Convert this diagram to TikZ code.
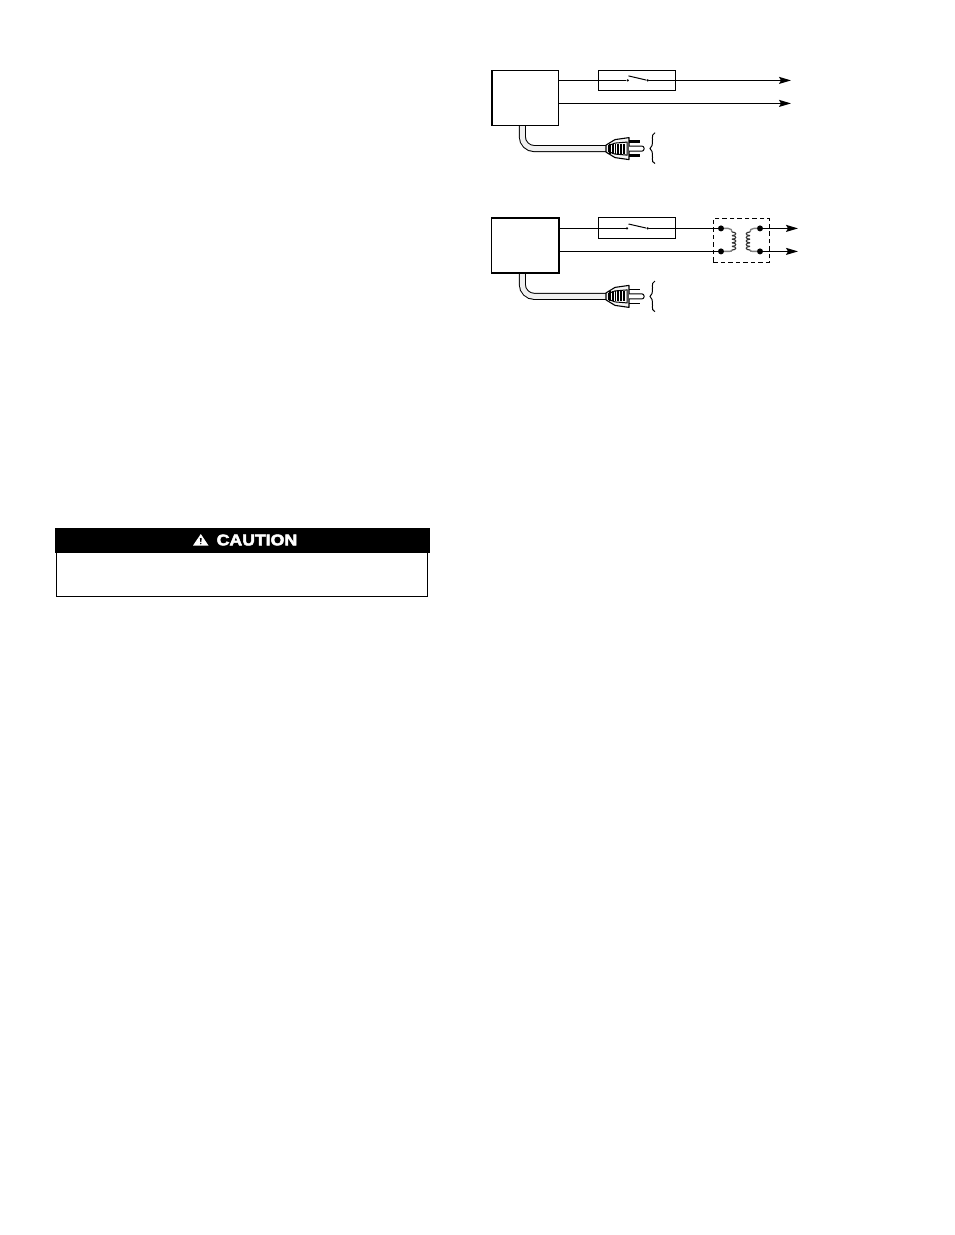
\documentclass[tikz,border=0pt]{standalone}
\usepackage{fontspec}
\setmainfont{DejaVu Sans}
\newfontfamily\cautionfont[FakeBold=3.2,FakeStretch=1.14]{Liberation Sans Bold}
\usetikzlibrary{arrows.meta}
\tikzset{
  ctrlbox/.style={draw=black,fill=white,line width=1.5pt,inner sep=0pt,outer sep=0pt,minimum width=67.2pt},
  fusebox/.style={draw=black,line width=1.2pt,inner sep=0pt,outer sep=0pt,minimum width=77.4pt},
  wire/.style={draw=black,line width=1.2pt},
  outwire/.style={wire,-{Stealth[length=12pt,width=7pt,inset=2pt]}},
  blade/.style={draw=black,line width=1pt},
  contact/.style={fill=black,circle,inner sep=0pt,minimum size=2.6pt},
  terminal/.style={fill=black,circle,inner sep=0pt,outer sep=0pt,minimum size=6pt},
  cordouter/.style={draw=black,line width=7pt,rounded corners=12pt},
  cordinner/.style={draw=black!6,line width=5pt,rounded corners=12pt},
  bracket/.style={draw=black,line width=1pt},
  coilleg/.style={draw=black!50,line width=1.4pt},
  coilturn/.style={draw=black!80,line width=1.1pt},
  dashedbox/.style={draw=black,line width=1pt,dash pattern=on 4.5pt off 3pt,inner sep=0pt,outer sep=0pt,minimum width=56pt,minimum height=44pt},
  banner/.style={fill=black,inner sep=0pt,outer sep=0pt,minimum width=375pt,minimum height=25pt},
  notebox/.style={draw=black,line width=1pt,inner sep=0pt,outer sep=0pt,minimum width=371pt,minimum height=60pt},
  cautiontext/.style={text=white,font=\fontsize{15.5}{15.5}\selectfont\cautionfont,inner sep=0pt},
  powerplug/.pic={
    \draw[black,line width=1.1pt,fill=black!4,line join=round] (0,-3.5) -- (9,-9) -- (23,-11) -- (23,11) -- (9,9) -- (0,3.5) -- cycle;
    \draw[black,line width=1pt,fill=white] (2.5,-3) -- (9,-5.5) -- (21,-6.5) -- (21,6.5) -- (9,5.5) -- (2.5,3) -- cycle;
    \foreach \sx in {3,5.8,8.6,11.4,14.2,17} {\fill[black] (\sx,-5) rectangle (\sx+1.7,5);}
    \draw[black,line width=1pt,fill=white,rounded corners=2pt] (23,-2.5) -- (38,-2.5) -- (38,2.5) -- (23,2.5);
    \draw[black,line width=\prongw] (23,-7) -- (34,-7);
    \draw[black,line width=\prongw] (23,7) -- (34,7);
  }
}
\newcommand{\prongw}{2pt}
\begin{document}
\begin{tikzpicture}[x=1pt,y=-1pt]
\useasboundingbox (0,0) rectangle (954,1235);
% ---- upper diagram
\coordinate (cA) at (522.3,125.3);
\coordinate (cAbend) at (522.3,148.6);
\coordinate (pA) at (606,148.6);
\draw[cordouter] (cA) -- (cAbend) -- (pA);
\draw[cordinner] (cA) -- (cAbend) -- (pA);
\node[ctrlbox,minimum height=55pt] (boxA) at (525.1,97.8) {};
\draw[black,line width=2pt] ([xshift=0.7pt]boxA.north west) -- ([xshift=0.7pt]boxA.south west);
\node[fusebox,minimum height=20pt] (fuseA) at (637,80.3) {};
\coordinate (a1) at (boxA.east |- 0,80.4);
\coordinate (a2) at (boxA.east |- 0,103.4);
\node[contact] (swAl) at (627.7,80.4) {};
\node[contact] (swAr) at (647.7,80.4) {};
\coordinate (bladeA) at (628.5,75.9);
\coordinate (outA1) at (791,80.4);
\coordinate (outA2) at (791,103.4);
\draw[wire] (a1) -- (swAl);
\draw[blade] (bladeA) -- (swAr);
\draw[outwire] (swAr) -- (outA1);
\draw[outwire] (a2) -- (outA2);
\renewcommand{\prongw}{2.4pt}
\pic at (pA) {powerplug};
\draw[bracket] (655,132.7) .. controls (652,133.5) and (652.5,136) .. (652.5,140) .. controls (652.5,145) and (652,147) .. (650,148.5) .. controls (652,150) and (652.5,152) .. (652.5,157) .. controls (652.5,161) and (652,163) .. (655,163.5);
% ---- lower diagram
\coordinate (cB) at (522.3,273.3);
\coordinate (cBbend) at (522.3,296.4);
\coordinate (pB) at (606,296.4);
\draw[cordouter] (cB) -- (cBbend) -- (pB);
\draw[cordinner] (cB) -- (cBbend) -- (pB);
\node[ctrlbox,line width=1.9pt,minimum height=55.6pt] (boxB) at (525.1,245.5) {};
\node[fusebox,line width=1.5pt,minimum height=20.6pt] (fuseB) at (637,228) {};
\coordinate (b1) at (boxB.east |- 0,228.4);
\coordinate (b2) at (boxB.east |- 0,251.4);
\node[contact] (swBl) at (627,228.4) {};
\node[contact] (swBr) at (647.7,228.4) {};
\coordinate (bladeB) at (628.5,224);
\node[dashedbox] (dash) at (741.3,240.3) {};
\node[terminal] (tl1) at (721,228.4) {};
\node[terminal] (tl2) at (721,251.4) {};
\node[terminal] (tr1) at (760,228.4) {};
\node[terminal] (tr2) at (760,251.4) {};
\coordinate (outB1) at (798,228.4);
\coordinate (outB2) at (798,251.4);
\draw[wire] (b1) -- (swBl);
\draw[blade] (bladeB) -- (swBr);
\draw[wire] (swBr) -- (tl1);
\draw[wire] (b2) -- (tl2);
\draw[outwire] (tr1) -- (outB1);
\draw[outwire] (tr2) -- (outB2);
\draw[coilleg] (tl1) -- (728,228.4) .. controls (731,228.4) and (732,230) .. (732,232);
\draw[coilleg] (tl2) -- (729,251.4) .. controls (731,251.4) and (732,251) .. (732,250);
\draw[coilleg] (tr1) -- (754,228.4) .. controls (751,228.4) and (750,230) .. (750,232);
\draw[coilleg] (tr2) -- (753,251.4) .. controls (751,251.4) and (750,251) .. (750,250);
\foreach \n in {0,...,4} {
  \draw[coilturn] (732,232+3.6*\n) .. controls (737,232+3.6*\n) and (737,235.6+3.6*\n) .. (732,235.6+3.6*\n);
  \draw[coilturn] (750,232+3.6*\n) .. controls (745,232+3.6*\n) and (745,235.6+3.6*\n) .. (750,235.6+3.6*\n);
}
\renewcommand{\prongw}{1.5pt}
\pic at (pB) {powerplug};
\draw[bracket] (655,281) .. controls (652,282) and (652.5,284) .. (652.5,288) .. controls (652.5,293) and (652,295) .. (650,296.4) .. controls (652,298) and (652.5,300) .. (652.5,305) .. controls (652.5,309) and (652,311) .. (655,311.7);
% ---- caution panel
\node[notebox] (note) at (241.8,566.3) {};
\node[banner] (ban) at (242.5,540.8) {};
\node[cautiontext,anchor=west] (ctext) at (216.5,540) {CAUTION};
\fill[white] (200.8,534) -- (208.5,545.5) -- (193,545.5) -- cycle;
\fill[black] (199.9,538) -- (201.7,538) -- (201.3,542) -- (200.3,542) -- cycle;
\fill[black] (200.8,543.6) circle (0.8);
\end{tikzpicture}
\end{document}
